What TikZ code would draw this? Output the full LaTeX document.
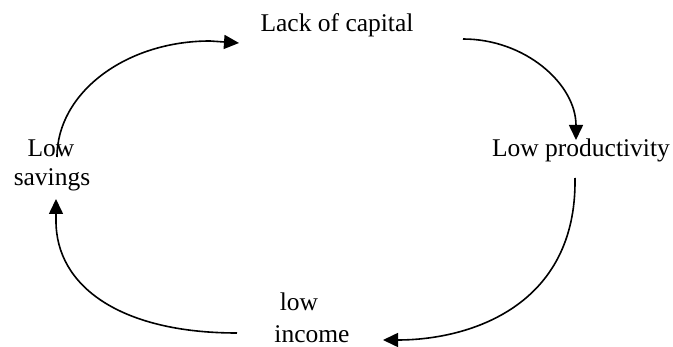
\documentclass[tikz,border=0pt]{standalone}
\usepackage{fontspec}
\setmainfont{Liberation Serif}
\usetikzlibrary{arrows.meta}
\begin{document}
\begin{tikzpicture}[x=1pt,y=1pt,
  lbl/.style={inner sep=0pt,anchor=base,font=\fontsize{25.5}{30}\selectfont},
  conn/.style={line width=1.6pt,-{Triangle[length=15pt,width=14pt]}}]
\useasboundingbox (0,0) rectangle (673,346);
% labels
\node[lbl] (cap) at (337,314) {Lack of capital};
\node[lbl] (prod) at (581,189) {Low productivity};
\node[lbl] (savA) at (51,189) {Low};
\node[lbl] (savB) at (52,160) {savings};
\node[lbl] (incA) at (299,35) {low};
\node[lbl] (incB) at (312,4) {income};
% connector end points
\coordinate (s1) at (57,189);
\coordinate (e1) at (239,303);
\coordinate (s2) at (463,307);
\coordinate (s3) at (575,168);
\coordinate (c3a) at (577,40);
\coordinate (c3b) at (470,6);
\coordinate (e3) at (383,6);
\coordinate (s4) at (237,13);
\coordinate (c4a) at (120,13);
\coordinate (c4b) at (56,60);
\coordinate (m4) at (56,125);
\coordinate (e4) at (56,147);
% connectors
\draw[conn] (s1) arc[start angle=180,end angle=90,x radius=153,y radius=116] -- (e1);
\draw[conn] (s2) arc[start angle=90,end angle=0,x radius=113,y radius=101];
\draw[conn] (s3) .. controls (c3a) and (c3b) .. (e3);
\draw[conn] (s4) .. controls (c4a) and (c4b) .. (m4) -- (e4);
\end{tikzpicture}
\end{document}
